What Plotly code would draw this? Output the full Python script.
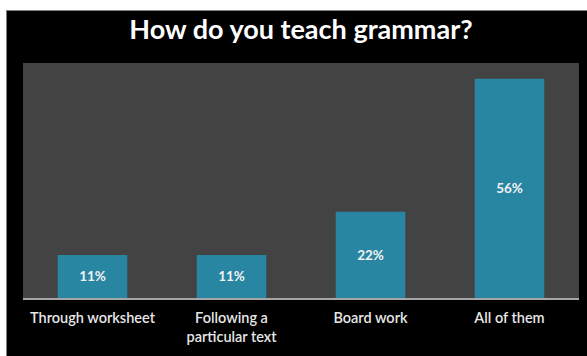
import plotly.graph_objects as go

# Survey results
categories = ["Through worksheet", "Following a<br>particular text", "Board work", "All of them"]
shares = [11, 11, 22, 56]
value_labels = [f"{v}%" for v in shares]

W, H = 587, 356
L, R, T, B = 23, 8, 63, 58
plot_w = W - L - R
plot_h = H - T - B


def px_x(px):
    return (px - L) / plot_w


def px_y(py):
    return 1 - (py - T) / plot_h


fig = go.Figure(
    go.Bar(
        x=categories,
        y=shares,
        text=value_labels,
        textposition="inside",
        insidetextanchor="middle",
        textfont=dict(family="Lato", size=13.5, color="#f2f2f2", weight="bold"),
        marker=dict(color="#2886a2", line=dict(width=0)),
        hoverinfo="skip",
    )
)

fig.update_layout(
    width=W,
    height=H,
    margin=dict(l=L, r=R, t=T, b=B),
    paper_bgcolor="#000000",
    plot_bgcolor="#434343",
    bargap=0.5,
    showlegend=False,
    title=dict(
        text="<b>How do you teach grammar?</b>",
        x=301 / W,
        xanchor="center",
        y=1 - 30 / H,
        yanchor="middle",
        font=dict(family="Lato", size=27, color="#ffffff"),
    ),
    xaxis=dict(
        showgrid=False,
        showline=True,
        linecolor="#a6a6a6",
        linewidth=2,
        ticks="",
        ticklabelstandoff=6,
        tickfont=dict(family="Lato", size=14.5, color="#e6e6e6", weight=600),
        fixedrange=True,
    ),
    yaxis=dict(
        range=[0, 60],
        showgrid=False,
        zeroline=False,
        showticklabels=False,
        showline=False,
        fixedrange=True,
    ),
    shapes=[
        # white page edge above and to the left of the slide
        dict(type="rect", xref="paper", yref="paper",
             x0=px_x(0), x1=px_x(W), y0=px_y(0), y1=px_y(10.5),
             fillcolor="#ffffff", line=dict(width=0), layer="above"),
        dict(type="rect", xref="paper", yref="paper",
             x0=px_x(0), x1=px_x(6), y0=px_y(0), y1=px_y(H),
             fillcolor="#ffffff", line=dict(width=0), layer="above"),
        dict(type="line", xref="paper", yref="paper",
             x0=px_x(6.5), x1=px_x(6.5), y0=px_y(10.5), y1=px_y(H),
             line=dict(color="#808080", width=1), layer="above"),
    ],
)

fig.write_html("out.html")
